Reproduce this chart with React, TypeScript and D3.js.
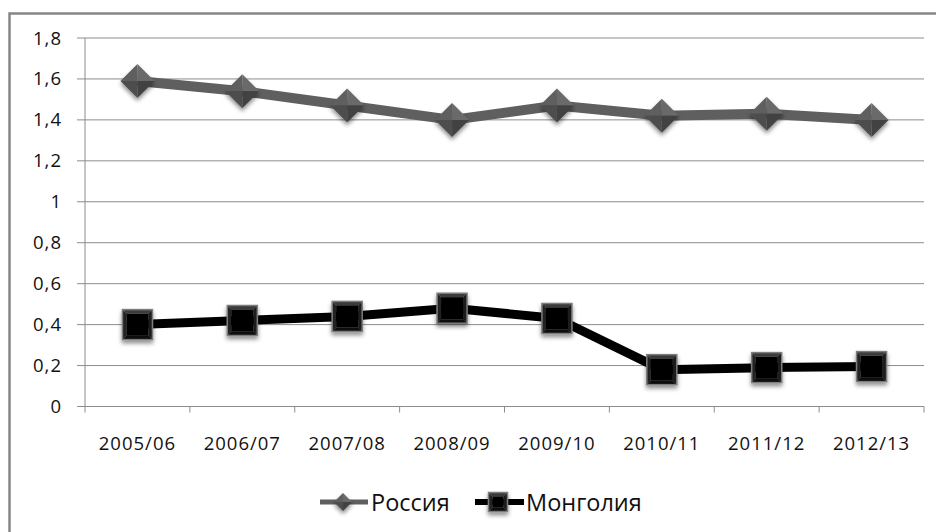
import React from "react";
import * as d3 from "d3";

const categories = ["2005/06", "2006/07", "2007/08", "2008/09", "2009/10", "2010/11", "2011/12", "2012/13"];
const russia = [1.59, 1.54, 1.47, 1.40, 1.47, 1.42, 1.43, 1.40];
const mongolia = [0.40, 0.42, 0.44, 0.48, 0.43, 0.18, 0.19, 0.195];
const yTicks = [0, 0.2, 0.4, 0.6, 0.8, 1, 1.2, 1.4, 1.6, 1.8];
const seriesNames = ["Россия", "Монголия"];

const W = 936, H = 532;
const left = 85, right = 924, top = 38, bottom = 406.5;
const FONT = "'Open Sans', sans-serif";

function Diamond({ cx, cy, r }: { cx: number; cy: number; r: number }) {
  const T = [cx, cy - r], R = [cx + r, cy], B = [cx, cy + r], L = [cx - r, cy], C = [cx, cy];
  const p = (a: number[][]) => a.map((q) => q.join(",")).join(" ");
  return (
    <g filter="url(#shadow)">
      <polygon points={p([L, T, C])} fill="#5e5e5e" />
      <polygon points={p([T, R, C])} fill="#6a6a6a" />
      <polygon points={p([R, B, C])} fill="#434343" />
      <polygon points={p([B, L, C])} fill="#4d4d4d" />
    </g>
  );
}

function Square({ cx, cy, s }: { cx: number; cy: number; s: number }) {
  const h = s / 2, i = s / 2 - 4;
  const o = [[cx - h, cy - h], [cx + h, cy - h], [cx + h, cy + h], [cx - h, cy + h]];
  const n = [[cx - i, cy - i], [cx + i, cy - i], [cx + i, cy + i], [cx - i, cy + i]];
  const p = (a: number[][]) => a.map((q) => q.join(",")).join(" ");
  return (
    <g filter="url(#shadow)">
      <polygon points={p([o[0], o[1], n[1], n[0]])} fill="#3a3a3a" />
      <polygon points={p([o[1], o[2], n[2], n[1]])} fill="#1a1a1a" />
      <polygon points={p([o[2], o[3], n[3], n[2]])} fill="#0c0c0c" />
      <polygon points={p([o[3], o[0], n[0], n[3]])} fill="#222" />
      <polygon points={p(n)} fill="#050505" />
      <rect x={cx - h} y={cy - h} width={s} height={s} fill="none" stroke="#7c7c7c" strokeWidth={1.5} />
    </g>
  );
}

export default function App() {
  const x = d3.scaleBand<string>().domain(categories).range([left, right]);
  const y = d3.scaleLinear().domain([0, 1.8]).range([bottom, top]);
  const cx = (c: string) => (x(c) as number) + x.bandwidth() / 2;
  const line = d3.line<number>().x((_, i) => cx(categories[i])).y((d) => y(d));
  const fmt = (v: number) => String(Math.round(v * 10) / 10).replace(".", ",");

  return (
    <div style={{ position: "absolute", left: 0, top: 0 }}>
      <svg width={W} height={H} style={{ display: "block" }}>
        <defs>
          <filter id="shadow" x="-50%" y="-50%" width="200%" height="200%">
            <feDropShadow dx="0" dy="3" stdDeviation="2" floodColor="#000" floodOpacity="0.45" />
          </filter>
        </defs>
        <rect x={0} y={0} width={W} height={H} fill="#fff" />
        <rect x={9.5} y={13.5} width={1000} height={1000} fill="none" stroke="#868686" strokeWidth={2.5} />
        {yTicks.map((t) => (
          <g key={t}>
            {t > 0 && <line x1={left} x2={right} y1={y(t)} y2={y(t)} stroke="#8c8c8c" strokeWidth={1} />}
            <line x1={left - 8} x2={left} y1={y(t)} y2={y(t)} stroke="#8c8c8c" strokeWidth={1} />
            <text x={62} y={y(t) + 6.5} textAnchor="end" fontFamily={FONT} fontSize={18.5} letterSpacing={1} fill="#111">
              {fmt(t)}
            </text>
          </g>
        ))}
        <line x1={left} x2={left} y1={top} y2={bottom} stroke="#8c8c8c" strokeWidth={1} />
        <line x1={left} x2={right} y1={bottom} y2={bottom} stroke="#8c8c8c" strokeWidth={1} />
        {categories.map((c, i) => (
          <line key={"t" + i} x1={x(c) as number} x2={x(c) as number} y1={bottom} y2={bottom + 6} stroke="#8c8c8c" />
        ))}
        <line x1={right} x2={right} y1={bottom} y2={bottom + 6} stroke="#8c8c8c" />
        {categories.map((c) => (
          <text key={c} x={cx(c)} y={450} textAnchor="middle" fontFamily={FONT} fontSize={18.5} letterSpacing={1} fill="#111">
            {c}
          </text>
        ))}
        <path d={line(russia) as string} fill="none" stroke="#5f5f5f" strokeWidth={10} strokeLinejoin="round" />
        <path d={line(mongolia) as string} fill="none" stroke="#000" strokeWidth={9} strokeLinejoin="round" />
        {russia.map((v, i) => (
          <Diamond key={"r" + i} cx={cx(categories[i])} cy={y(v)} r={17} />
        ))}
        {mongolia.map((v, i) => (
          <Square key={"m" + i} cx={cx(categories[i])} cy={y(v)} s={30} />
        ))}
        {/* legend */}
        <line x1={320} x2={368} y1={502} y2={502} stroke="#5f5f5f" strokeWidth={5} />
        <Diamond cx={343} cy={502} r={9} />
        <text x={371} y={511} fontFamily={FONT} fontSize={23.5} fill="#111">{seriesNames[0]}</text>
        <line x1={475} x2={524} y1={502} y2={502} stroke="#000" strokeWidth={6} />
        <Square cx={498} cy={502} s={19} />
        <text x={526} y={511} fontFamily={FONT} fontSize={23.5} fill="#111">{seriesNames[1]}</text>
      </svg>
    </div>
  );
}
